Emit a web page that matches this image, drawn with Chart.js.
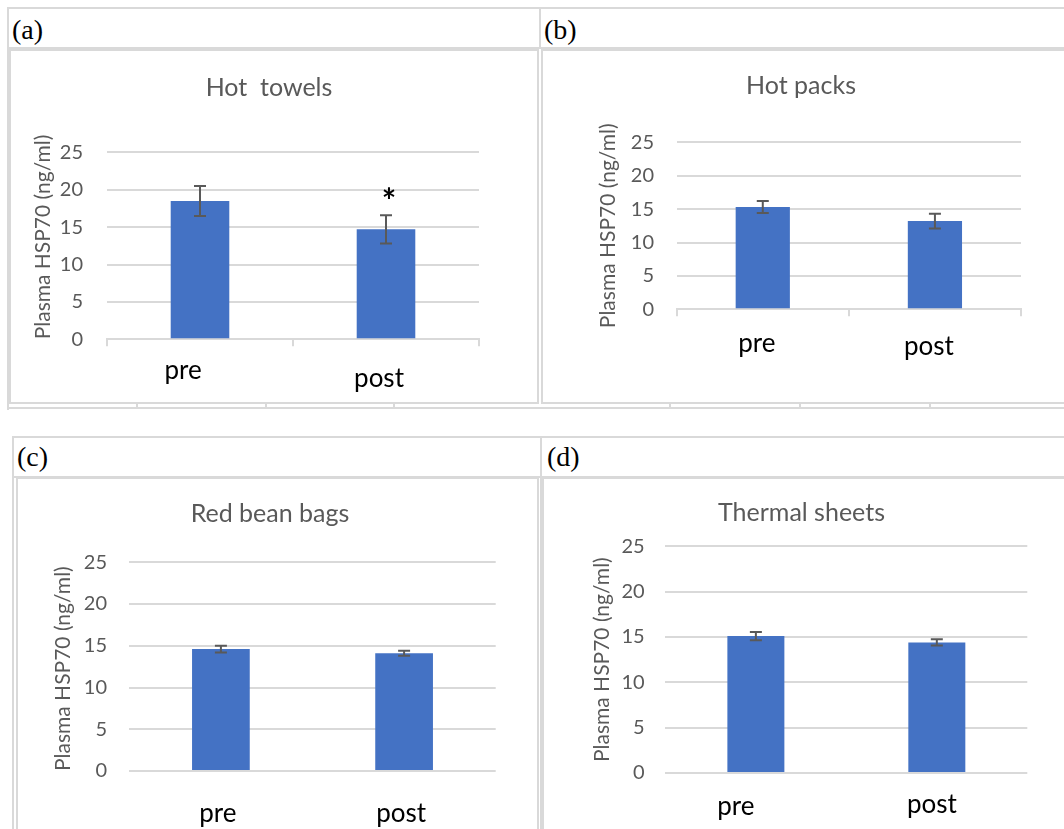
<!DOCTYPE html>
<html lang="en">
<head>
<meta charset="UTF-8">
<title>Plasma HSP70 pre/post</title>
<script src="https://cdn.jsdelivr.net/npm/chart.js"></script>
<style>
	body { margin: 0; background: #fff; width: 1064px; height: 829px; overflow: hidden; position: relative; }
	.ln { position: absolute; background: #d9d9d9; }
	.box { position: absolute; border: 2px solid #d9d9d9; box-sizing: border-box; }
	.tag { position: absolute; font-family: "Liberation Serif", serif; font-size: 28px; color: #000; line-height: 1; }
	canvas { position: absolute; }
</style>
</head>
<body>

<!-- top table -->
<div class="ln" style="left:7px;top:7px;width:1057px;height:2px"></div>
<div class="ln" style="left:7px;top:7px;width:2px;height:403px"></div>
<div class="ln" style="left:7px;top:47px;width:1057px;height:2px"></div>
<div class="ln" style="left:539px;top:7px;width:2px;height:42px"></div>
<div class="box" style="left:9px;top:49px;width:530px;height:355px"></div>
<div class="box" style="left:541px;top:49px;width:530px;height:355px"></div>
<div class="ln" style="left:7px;top:407px;width:1057px;height:2px"></div>
<div class="ln" style="left:136px;top:403px;width:2px;height:5px"></div>
<div class="ln" style="left:265px;top:403px;width:2px;height:5px"></div>
<div class="ln" style="left:393px;top:403px;width:2px;height:5px"></div>
<div class="ln" style="left:669px;top:403px;width:2px;height:5px"></div>
<div class="ln" style="left:799px;top:403px;width:2px;height:5px"></div>
<div class="ln" style="left:929px;top:403px;width:2px;height:5px"></div>
<div class="tag" style="left:12px;top:16px">(a)</div>
<div class="tag" style="left:544px;top:16px">(b)</div>

<!-- bottom table -->
<div class="ln" style="left:12px;top:436px;width:1052px;height:2px"></div>
<div class="ln" style="left:12px;top:436px;width:2px;height:393px"></div>
<div class="ln" style="left:12px;top:476px;width:1052px;height:2px"></div>
<div class="ln" style="left:540px;top:436px;width:2px;height:393px"></div>
<div class="box" style="left:16px;top:477px;width:523px;height:360px"></div>
<div class="box" style="left:542px;top:477px;width:530px;height:360px"></div>
<div class="tag" style="left:17px;top:443px">(c)</div>
<div class="tag" style="left:547px;top:443px">(d)</div>

<canvas id="chartA" style="left:11px;top:52px"></canvas>
<canvas id="chartB" style="left:544px;top:52px"></canvas>
<canvas id="chartC" style="left:19px;top:479px"></canvas>
<canvas id="chartD" style="left:546px;top:479px"></canvas>

<script>
// data
const categories = ['pre', 'post'];
const yTickMin = 0, yTickMax = 25, yTickStep = 5;

const hotTowels = [18.5, 14.7];
const hotTowelsErr = [2.0, 1.9];
const hotTowelsSig = ['', '*'];

const hotPacks = [15.3, 13.2];
const hotPacksErr = [0.9, 1.1];

const redBeanBags = [14.6, 14.1];
const redBeanBagsErr = [0.4, 0.3];

const thermalSheets = [15.1, 14.4];
const thermalSheetsErr = [0.45, 0.35];

const yTitle = 'Plasma HSP70 (ng/ml)';
const barBlue = '#4472c4';
const gridGrey = '#d9d9d9';
const textGrey = '#595959';

// error bars + significance marks, placed with the y scale
const errorBars = {
	id: 'errorBars',
	afterDatasetsDraw(chart) {
		const ctx = chart.ctx;
		const y = chart.scales.y;
		chart.data.datasets.forEach((ds, i) => {
			const meta = chart.getDatasetMeta(i);
			meta.data.forEach((bar, j) => {
				const v = ds.data[j], e = ds.errors[j];
				const top = y.getPixelForValue(v + e);
				const bot = y.getPixelForValue(v - e);
				ctx.save();
				ctx.strokeStyle = textGrey;
				ctx.lineWidth = 2;
				ctx.beginPath();
				ctx.moveTo(bar.x, top); ctx.lineTo(bar.x, bot);
				ctx.moveTo(bar.x - 6, top); ctx.lineTo(bar.x + 6, top);
				ctx.moveTo(bar.x - 6, bot); ctx.lineTo(bar.x + 6, bot);
				ctx.stroke();
				if (ds.marks && ds.marks[j]) {
					ctx.fillStyle = '#000';
					ctx.font = 'bold 34px Lato';
					ctx.textAlign = 'center';
					ctx.textBaseline = 'alphabetic';
					ctx.fillText(ds.marks[j], bar.x + 3, top - 2);
				}
				ctx.restore();
			});
		});
	}
};

// category names drawn under each bar, with the small shifts seen in the figure
const catLabels = {
	id: 'catLabels',
	afterDraw(chart, args, opts) {
		const ctx = chart.ctx;
		const x = chart.scales.x;
		ctx.save();
		ctx.fillStyle = '#000';
		ctx.font = '26px Lato';
		ctx.textAlign = 'center';
		ctx.textBaseline = 'alphabetic';
		chart.data.labels.forEach((lab, i) => {
			ctx.fillText(lab, x.getPixelForValue(i) + opts.dx[i], chart.chartArea.bottom + opts.dy[i]);
		});
		ctx.restore();
	}
};

function makeChart(id, title, values, errors, marks, g) {
	const cv = document.getElementById(id);
	cv.width = g.w; cv.height = g.h;
	cv.style.width = g.w + 'px'; cv.style.height = g.h + 'px';
	return new Chart(cv.getContext('2d'), {
		type: 'bar',
		data: {
			labels: categories,
			datasets: [{
				data: values,
				errors: errors,
				marks: marks,
				backgroundColor: barBlue,
				borderWidth: 0,
				barPercentage: 0.315,
				categoryPercentage: 1
			}]
		},
		options: {
			responsive: false,
			animation: false,
			devicePixelRatio: 1,
			layout: { padding: { left: g.pad, right: g.pad, top: 0, bottom: 0 } },
			plugins: {
				legend: { display: false },
				tooltip: { enabled: false },
				title: {
					display: true,
					text: title,
					color: textGrey,
					font: { family: 'Lato', size: 25, weight: 'normal', lineHeight: 1 },
					padding: { top: g.tTop, bottom: g.tBot }
				},
				catLabels: { dx: g.dx, dy: g.dy }
			},
			scales: {
				x: {
					grid: {
						display: g.axisTicks,
						offset: true,
						drawOnChartArea: false,
						drawTicks: true,
						tickLength: 7,
						color: gridGrey,
						lineWidth: 2
					},
					border: { display: g.axisTicks, color: gridGrey, width: 2 },
					ticks: { display: false },
					afterFit: s => { s.height = g.xH; }
				},
				y: {
					min: yTickMin,
					max: yTickMax,
					ticks: {
						stepSize: yTickStep,
						padding: g.tickPad,
						color: textGrey,
						font: { family: 'Lato', size: 20 }
					},
					grid: { color: gridGrey, lineWidth: 2, drawTicks: false },
					border: { display: false },
					title: {
						display: true,
						text: yTitle,
						align: g.yAlign,
						color: textGrey,
						font: { family: 'Lato', size: 21, lineHeight: 1.2 },
						padding: { top: g.yTitlePad, bottom: 0 }
					},
					afterFit: s => { s.width = g.yW; }
				}
			}
		},
		plugins: [errorBars, catLabels]
	});
}

makeChart('chartA', 'Hot  towels', hotTowels, hotTowelsErr, hotTowelsSig, {
	w: 516, h: 350, pad: 48, yW: 48, xH: 62.7, tTop: 23.5, tBot: 51.8, yAlign: 'start',
	yTitlePad: -28.6, tickPad: 24, axisTicks: true, dx: [-17, -7], dy: [39.7, 47.4]
});
makeChart('chartB', 'Hot packs', hotPacks, hotPacksErr, null, {
	w: 514, h: 350, pad: 37, yW: 95.7, xH: 92.7, tTop: 21.5, tBot: 43.8, yAlign: 'center',
	yTitlePad: 14.4, tickPad: 22.7, axisTicks: true, dx: [-6, -6], dy: [42.4, 45.7]
});
makeChart('chartC', 'Red bean bags', redBeanBags, redBeanBagsErr, null, {
	w: 502, h: 350, pad: 25.3, yW: 85, xH: 58, tTop: 22.8, tBot: 35.5, yAlign: 'start',
	yTitlePad: 6.4, tickPad: 22.3, axisTicks: false, dx: [-3, -3], dy: [50.7, 50.7]
});
makeChart('chartD', 'Thermal sheets', thermalSheets, thermalSheetsErr, null, {
	w: 511, h: 350, pad: 29.7, yW: 89.7, xH: 56, tTop: 21.8, tBot: 20.5, yAlign: 'center',
	yTitlePad: 13.8, tickPad: 20.7, axisTicks: false, dx: [-20, -5], dy: [42, 39.7]
});
</script>
</body>
</html>
